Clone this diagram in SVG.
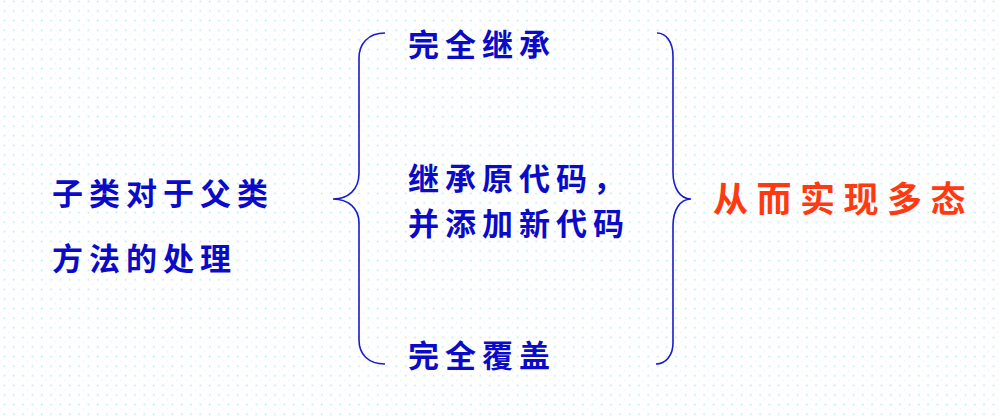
<svg xmlns="http://www.w3.org/2000/svg" width="1000" height="416" viewBox="0 0 1000 416">
  <defs>
    <pattern id="dots" x="0" y="0" width="9.33" height="9.6" patternUnits="userSpaceOnUse">
      <rect x="3.6" y="0.6" width="1.6" height="1.6" fill="#b8e6f8"/>
      <rect x="8.3" y="5.4" width="1.1" height="1.1" fill="#d8f1fb"/>
    </pattern>
    <style>
      .blue { font-family: "Noto Sans CJK SC", "Noto Sans", sans-serif; font-weight: bold; fill: #0a0ac8; font-size: 31px; letter-spacing: 6px; }
      .red { font-family: "Noto Sans CJK SC", "Noto Sans", sans-serif; font-weight: bold; fill: #ff3a10; font-size: 35px; letter-spacing: 8.5px; }
      .brace { fill: none; stroke: #1a1ad0; stroke-width: 1.6; }
    </style>
  </defs>
  <rect width="1000" height="416" fill="#ffffff"/>
  <rect width="1000" height="416" fill="url(#dots)"/>

  <g id="subject">
    <text class="blue" x="52" y="205">子类对于父类</text>
    <text class="blue" x="52" y="270">方法的处理</text>
  </g>

  <g id="connectors">
    <path class="brace" d="M385,33 C368,33 359,44 359,58 L359,173 C359,190 348,199 333,199 C348,199 359,208 359,223 L359,340 C359,354 368,364 385,364"/>
    <path class="brace" d="M657,33 C666,33 673,42 673,56 L673,172 C673,188 680,199 691,199 C680,199 673,210 673,226 L673,343 C673,355 666,364 656,364"/>
  </g>

  <g id="option-inherit">
    <text class="blue" x="408" y="56">完全继承</text>
  </g>
  <g id="option-extend">
    <text class="blue" x="408" y="190">继承原代码，</text>
    <text class="blue" x="408" y="235">并添加新代码</text>
  </g>
  <g id="option-override">
    <text class="blue" x="408" y="367">完全覆盖</text>
  </g>

  <g id="result">
    <text class="red" x="713" y="212">从而实现多态</text>
  </g>
</svg>
